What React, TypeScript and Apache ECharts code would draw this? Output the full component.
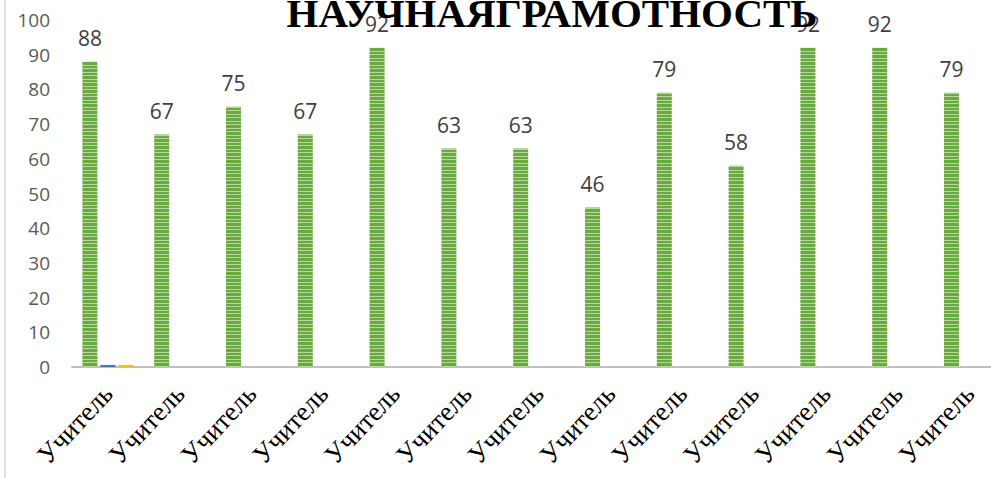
import React, { useEffect, useRef } from "react";
import * as echarts from "echarts";

const categories = ["Учитель", "Учитель", "Учитель", "Учитель", "Учитель", "Учитель", "Учитель", "Учитель", "Учитель", "Учитель", "Учитель", "Учитель", "Учитель"];
const greenValues = [88, 67, 75, 67, 92, 63, 63, 46, 79, 58, 92, 92, 79];
const blueValues = [0.6, null, null, null, null, null, null, null, null, null, null, null, null];
const yellowValues = [0.6, null, null, null, null, null, null, null, null, null, null, null, null];
const titleText = "НАУЧНАЯГРАМОТНОСТЬ";

function makeStripe(): string {
  const c = document.createElement("canvas");
  c.width = 4;
  c.height = 7;
  const ctx = c.getContext("2d")!;
  ctx.fillStyle = "#6aa842";
  ctx.fillRect(0, 0, 4, 7);
  ctx.fillStyle = "#b5d99a";
  ctx.fillRect(0, 2, 4, 1);
  ctx.fillRect(0, 5, 4, 1);
  return c.toDataURL();
}

export default function App() {
  const ref = useRef<HTMLDivElement>(null);
  useEffect(() => {
    const chart = echarts.init(ref.current!, undefined, { renderer: "svg" });
    const stripe = makeStripe();
    chart.setOption({
      animation: false,
      grid: { left: 72, right: -14.4, top: 20, bottom: 111, containLabel: false, outerBoundsMode: "none" } as any,
      graphic: [
        {
          type: "line",
          shape: { x1: 5, y1: 0, x2: 5, y2: 478 },
          style: { stroke: "#d4d4d4", lineWidth: 1.5 },
          z: 10,
        },
        {
          type: "text",
          x: 552,
          y: 12.5,
          z: 20,
          style: {
            text: titleText,
            fontFamily: "Liberation Serif",
            fontWeight: "bold",
            fontSize: 41,
            fill: "#000000",
            align: "center",
            verticalAlign: "middle",
          },
        },
      ],
      xAxis: {
        type: "category",
        data: categories,
        axisLine: { show: true, lineStyle: { color: "#bfbfbf", width: 2 } },
        axisTick: { show: false },
        axisLabel: {
          rotate: 47,
          margin: 22,
          interval: 0,
          fontFamily: "Liberation Serif",
          fontSize: 27,
          color: "#000000",
        },
      },
      yAxis: {
        type: "value",
        min: 0,
        max: 100,
        interval: 10,
        axisLine: { show: false },
        axisTick: { show: false },
        splitLine: { show: false },
        axisLabel: {
          margin: 22,
          fontFamily: "Open Sans",
          fontSize: 19,
          color: "#595959",
        },
      },
      series: [
        {
          type: "bar",
          data: greenValues,
          barWidth: 15,
          barGap: "20%",
          itemStyle: {
            color: { image: stripe, repeat: "repeat", imageWidth: 4, imageHeight: 7 } as any,
          },
          label: {
            show: true,
            position: "top",
            distance: 13,
            fontFamily: "Open Sans",
            fontSize: 21,
            color: "#404040",
          },
        },
        {
          type: "bar",
          data: blueValues,
          barWidth: 15,
          barGap: "20%",
          itemStyle: { color: "#4472c4" },
        },
        {
          type: "bar",
          data: yellowValues,
          barWidth: 15,
          barGap: "20%",
          itemStyle: { color: "#ffc000" },
        },
      ],
    });
    return () => chart.dispose();
  }, []);
  return (
    <div
      ref={ref}
      style={{ position: "fixed", left: 0, top: 0, width: 991, height: 478, background: "#ffffff" }}
    />
  );
}
